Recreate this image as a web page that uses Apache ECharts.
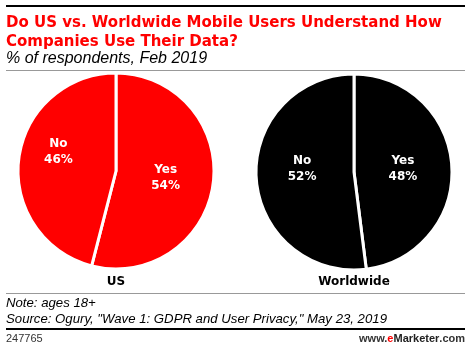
<!DOCTYPE html>
<html><head><meta charset="utf-8">
<script src="https://cdn.jsdelivr.net/npm/echarts@6/dist/echarts.min.js"></script>
<style>html,body{margin:0;padding:0;background:#fff}#c{width:470px;height:348px}</style>
</head><body><div id="c"></div>
<script>
const groups = ['US', 'Worldwide'];
const sliceNames = ['Yes', 'No'];
const usValues = [54, 46];
const worldValues = [48, 52];
const pieColors = { US: '#ff0000', Worldwide: '#000000' };

const chart = echarts.init(document.getElementById('c'), null, { renderer: 'canvas' });
const FONT = '"DejaVu Sans", Verdana, sans-serif';
const SFONT = '"Liberation Sans", Arial, sans-serif';

function pieSeries(name, values, center, offsets) {
  return {
    type: 'pie', name: name, center: center, radius: 98,
    startAngle: 90, clockwise: true, silent: true, animation: false,
    itemStyle: { color: pieColors[name], borderColor: '#fff', borderWidth: 3 },
    label: { show: true, position: 'inside', formatter: '{b}\n{c}%', color: '#fff',
      fontFamily: FONT, fontWeight: 'bold', fontSize: 12, lineHeight: 16, align: 'center' },
    labelLine: { show: false },
    labelLayout: function (p) { const o = offsets[p.dataIndex]; return { dx: o[0], dy: o[1] }; },
    data: sliceNames.map((n, i) => ({ name: n, value: values[i] }))
  };
}

chart.setOption({
  animation: false,
  title: [
    { text: 'Do US vs. Worldwide Mobile Users Understand How\nCompanies Use Their Data?', left: 6, top: 14, padding: 0,
      textStyle: { color: '#ff0000', fontFamily: FONT, fontWeight: 'bold', fontSize: 15, lineHeight: 19 } },
    { text: '% of respondents, Feb 2019', left: 6, top: 51, padding: 0,
      textStyle: { color: '#000', fontFamily: SFONT, fontStyle: 'italic', fontWeight: 'normal', fontSize: 16 } },
    { text: groups[0], left: 116, top: 276, textAlign: 'center', padding: 0,
      textStyle: { color: '#000', fontFamily: FONT, fontWeight: 'bold', fontSize: 12 } },
    { text: groups[1], left: 354, top: 276, textAlign: 'center', padding: 0,
      textStyle: { color: '#000', fontFamily: FONT, fontWeight: 'bold', fontSize: 12 } },
    { text: 'Note: ages 18+\nSource: Ogury, "Wave 1: GDPR and User Privacy," May 23, 2019', left: 6, top: 296, padding: 0,
      textStyle: { color: '#000', fontFamily: SFONT, fontStyle: 'italic', fontWeight: 'normal', fontSize: 13.2, lineHeight: 15.5 } },
    { text: '247765', left: 6, top: 333, padding: 0,
      textStyle: { color: '#333', fontFamily: SFONT, fontWeight: 'normal', fontSize: 11 } },
    { text: '{a|www.}{e|e}{m|Marketer}{a|.com}', right: 5, top: 333, padding: 0,
      textStyle: { rich: {
        a: { color: '#333', fontFamily: SFONT, fontSize: 11 },
        e: { color: '#ff0000', fontFamily: SFONT, fontSize: 11, fontWeight: 'bold' },
        m: { color: '#222', fontFamily: SFONT, fontSize: 11, fontWeight: 'bold' } } } }
  ],
  graphic: [
    { type: 'rect', shape: { x: 6, y: 5, width: 459, height: 2 }, style: { fill: '#000' }, silent: true },
    { type: 'rect', shape: { x: 6, y: 70, width: 459, height: 1 }, style: { fill: '#999' }, silent: true },
    { type: 'rect', shape: { x: 6, y: 293, width: 459, height: 1 }, style: { fill: '#999' }, silent: true },
    { type: 'rect', shape: { x: 6, y: 328, width: 459, height: 2 }, style: { fill: '#000' }, silent: true }
  ],
  series: [
    pieSeries('US', usValues, [116, 171], [[-2, 0], [-6, -13]]),
    pieSeries('Worldwide', worldValues, [354, 172], [[-3, 0], [0, -6]])
  ]
});
</script></body></html>
